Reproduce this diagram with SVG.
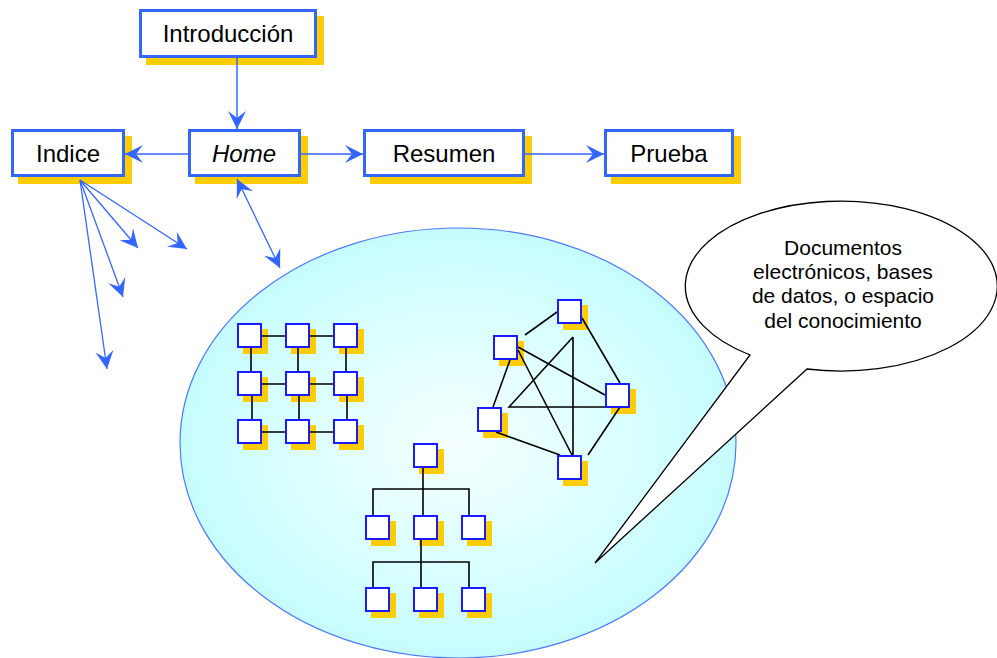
<svg xmlns="http://www.w3.org/2000/svg" width="997" height="658" viewBox="0 0 997 658">
<style>
.shadow{fill:#ffcc00}
.box{fill:#fff;stroke:#3366ff;stroke-width:3}
.lbl{font-family:"Liberation Sans",Arial,sans-serif;font-size:24px;text-anchor:middle;fill:#000}
.sq{fill:#fff;stroke:#1a1aff;stroke-width:2}
.edge{stroke:#000;stroke-width:1.6;fill:none}
.arrow{stroke:#3366ff;stroke-width:1.5;fill:none}
.fan{stroke:#3366ff;stroke-width:1.3;fill:none}
.callout{fill:#fff;stroke:#000;stroke-width:1.3}
.ctext{font-family:"Liberation Sans",Arial,sans-serif;font-size:21px;text-anchor:middle;fill:#000}
</style>
<defs>
<radialGradient id="sea" cx="0.5" cy="0.5" r="0.5">
<stop offset="0" stop-color="#f6ffff"/>
<stop offset="0.55" stop-color="#dcffff"/>
<stop offset="1" stop-color="#c6fcff"/>
</radialGradient>
<marker id="ah" markerUnits="userSpaceOnUse" viewBox="-19 -10 20 20" refX="0" refY="0" markerWidth="20" markerHeight="20" orient="auto-start-reverse">
<path d="M0,0 L-18,-9 L-11,0 L-18,9 Z" fill="#3366ff"/>
</marker>
</defs>

<g id="space">
<ellipse cx="458" cy="443" rx="278" ry="215" fill="url(#sea)" stroke="#4d79ff" stroke-width="1.2"/>
</g>

<g id="introduccion">
<rect class="shadow" x="146" y="16" width="178" height="49"/>
<rect class="box" x="140.5" y="10.5" width="175" height="46"/>
<text class="lbl" x="228" y="42">Introducción</text>
</g>
<g id="indice">
<rect class="shadow" x="18" y="136" width="114" height="48"/>
<rect class="box" x="12.5" y="130.5" width="111" height="45"/>
<text class="lbl" x="68" y="162">Indice</text>
</g>
<g id="home">
<rect class="shadow" x="195" y="136" width="113" height="48"/>
<rect class="box" x="189.5" y="130.5" width="110" height="45"/>
<text class="lbl" x="244" y="162" font-style="italic">Home</text>
</g>
<g id="resumen">
<rect class="shadow" x="370" y="136" width="162" height="48"/>
<rect class="box" x="364.5" y="130.5" width="159" height="45"/>
<text class="lbl" x="444" y="162">Resumen</text>
</g>
<g id="prueba">
<rect class="shadow" x="611" y="136" width="130" height="48"/>
<rect class="box" x="605.5" y="130.5" width="127" height="45"/>
<text class="lbl" x="669" y="162">Prueba</text>
</g>

<g id="grid">
<rect class="shadow" x="243" y="329" width="25" height="25"/>
<rect class="shadow" x="291" y="329" width="25" height="25"/>
<rect class="shadow" x="339" y="329" width="25" height="25"/>
<rect class="shadow" x="243" y="377" width="25" height="25"/>
<rect class="shadow" x="291" y="377" width="25" height="25"/>
<rect class="shadow" x="339" y="377" width="25" height="25"/>
<rect class="shadow" x="243" y="425" width="25" height="25"/>
<rect class="shadow" x="291" y="425" width="25" height="25"/>
<rect class="shadow" x="339" y="425" width="25" height="25"/>
<path class="edge" d="M262,336 H285 M310,336 H333 M262,384 H285 M310,384 H333 M262,432 H285 M310,432 H333 M251,348 V371 M298,348 V371 M346,348 V371 M252,396 V419 M299,396 V419 M347,396 V419"/>
<rect class="sq" x="238" y="324" width="23" height="23"/>
<rect class="sq" x="286" y="324" width="23" height="23"/>
<rect class="sq" x="334" y="324" width="23" height="23"/>
<rect class="sq" x="238" y="372" width="23" height="23"/>
<rect class="sq" x="286" y="372" width="23" height="23"/>
<rect class="sq" x="334" y="372" width="23" height="23"/>
<rect class="sq" x="238" y="420" width="23" height="23"/>
<rect class="sq" x="286" y="420" width="23" height="23"/>
<rect class="sq" x="334" y="420" width="23" height="23"/>
</g>

<g id="network">
<rect class="shadow" x="563" y="305" width="25" height="25"/>
<rect class="shadow" x="499" y="341" width="25" height="25"/>
<rect class="shadow" x="611" y="389" width="25" height="25"/>
<rect class="shadow" x="483" y="413" width="25" height="25"/>
<rect class="shadow" x="563" y="461" width="25" height="25"/>
<path class="edge" d="M525,335 L557,312 M582,318 L620,383 M510,360 L493,407 M518,347 L605,395 M518,350 L572,455 M496,432 L560,455 M620,407 L588,455 M573,337 L509,407 L605,407 M573,337 L573,455"/>
<rect class="sq" x="558" y="300" width="23" height="23"/>
<rect class="sq" x="494" y="336" width="23" height="23"/>
<rect class="sq" x="606" y="384" width="23" height="23"/>
<rect class="sq" x="478" y="408" width="23" height="23"/>
<rect class="sq" x="558" y="456" width="23" height="23"/>
</g>

<g id="tree">
<rect class="shadow" x="419" y="449" width="25" height="25"/>
<rect class="shadow" x="371" y="521" width="25" height="25"/>
<rect class="shadow" x="419" y="521" width="25" height="25"/>
<rect class="shadow" x="467" y="521" width="25" height="25"/>
<rect class="shadow" x="371" y="593" width="25" height="25"/>
<rect class="shadow" x="419" y="593" width="25" height="25"/>
<rect class="shadow" x="467" y="593" width="25" height="25"/>
<path class="edge" d="M423,468 V515 M373,515 V489 H469 V515 M421,540 V587 M373,587 V562 H469 V587"/>
<rect class="sq" x="414" y="444" width="23" height="23"/>
<rect class="sq" x="366" y="516" width="23" height="23"/>
<rect class="sq" x="414" y="516" width="23" height="23"/>
<rect class="sq" x="462" y="516" width="23" height="23"/>
<rect class="sq" x="366" y="588" width="23" height="23"/>
<rect class="sq" x="414" y="588" width="23" height="23"/>
<rect class="sq" x="462" y="588" width="23" height="23"/>
</g>

<g id="callout">
<path class="callout" d="M750,355 A156,85 0 1 1 807,369 L595,563 Z"/>
<text class="ctext" x="843" y="255">Documentos</text>
<text class="ctext" x="843" y="279">electrónicos, bases</text>
<text class="ctext" x="843" y="303">de datos, o espacio</text>
<text class="ctext" x="843" y="328">del conocimiento</text>
</g>

<g id="connectors">
<path class="arrow" d="M237,58 L237,129" marker-end="url(#ah)"/>
<path class="arrow" d="M188,154 L125,154" marker-end="url(#ah)"/>
<path class="arrow" d="M301,154 L363,154" marker-end="url(#ah)"/>
<path class="arrow" d="M525,154 L604,154" marker-end="url(#ah)"/>
<path class="fan" d="M237,179 L280,268" marker-start="url(#ah)" marker-end="url(#ah)"/>
<path class="fan" d="M80,180 L138,248" marker-end="url(#ah)"/>
<path class="fan" d="M80,180 L187,249" marker-end="url(#ah)"/>
<path class="fan" d="M80,180 L123,297" marker-end="url(#ah)"/>
<path class="fan" d="M80,180 L107,369" marker-end="url(#ah)"/>
</g>
</svg>
